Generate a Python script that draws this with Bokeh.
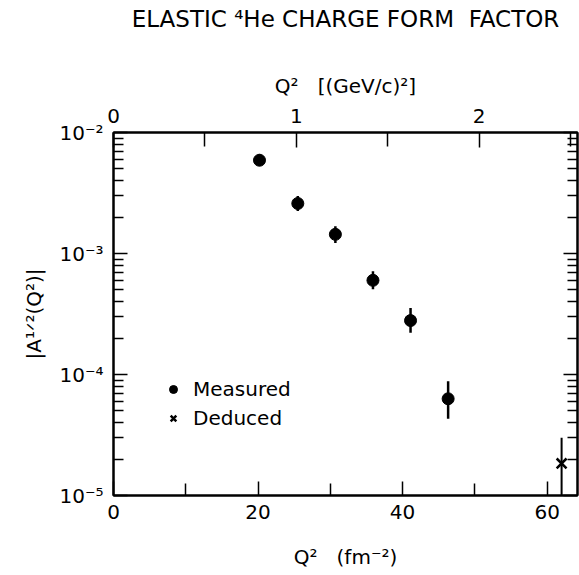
from bokeh.plotting import figure
from bokeh.models import (Range1d, LogAxis, LinearAxis, FixedTicker, Title,
                          Legend, LegendItem, ColumnDataSource)
from bokeh.embed import file_html
from bokeh.resources import INLINE

# ---------------- data ----------------
NB = "\u00a0"
title_text = "ELASTIC ⁴He CHARGE FORM" + NB + NB + "FACTOR"
x_label = "Q²" + NB * 3 + "(fm⁻²)"
top_label = "Q²" + NB * 3 + "[(GeV/c)²]"
y_label = "|A¹ᐟ²(Q²)|"

q2_measured = [20.2, 25.5, 30.7, 35.9, 41.1, 46.3]
a_measured = [5.9e-3, 2.59e-3, 1.44e-3, 6.0e-4, 2.79e-4, 6.3e-5]
a_measured_hi = [6.6e-3, 2.98e-3, 1.68e-3, 7.15e-4, 3.55e-4, 8.8e-5]
a_measured_lo = [5.3e-3, 2.24e-3, 1.22e-3, 5.07e-4, 2.21e-4, 4.3e-5]

q2_deduced = [62.0]
a_deduced = [1.84e-5]
a_deduced_hi = [3.0e-5]
a_deduced_lo = [5.0e-6]

x_ticks = [0, 20, 40, 60]
x_minor_ticks = [10, 30, 50]
top_ticks = [0, 1, 2]
top_minor_ticks = [0.5, 1.5, 2.5]
y_ticks = [1e-5, 1e-4, 1e-3, 1e-2]
y_tick_labels = ["10⁻⁵", "10⁻⁴", "10⁻³", "10⁻²"]
y_minor_ticks = [m * 10.0 ** e for e in (-5, -4, -3) for m in range(2, 10)]

X_MAX = 64.2
FM2_PER_GEV2 = 25.3
FONT = "DejaVu Sans"

# ---------------- figure ----------------
p = figure(width=579, height=575, output_backend="svg", toolbar_location=None,
           x_range=Range1d(0, X_MAX), y_range=Range1d(1e-5, 1e-2),
           y_axis_type="log",
           min_border_left=113, min_border_right=2,
           min_border_top=132, min_border_bottom=80)
p.extra_x_ranges = {"gev": Range1d(0, X_MAX / FM2_PER_GEV2)}
p.grid.visible = False
p.outline_line_color = "black"
p.outline_line_width = 2
p.background_fill_color = "white"
p.border_fill_color = "white"


def style(ax, major=14, minor=11):
    ax.axis_line_width = 2
    ax.axis_line_color = "black"
    ax.major_tick_in = major
    ax.major_tick_out = 0
    ax.minor_tick_in = minor
    ax.minor_tick_out = 0
    ax.major_tick_line_width = 1.5
    ax.minor_tick_line_width = 1.5
    ax.major_label_text_font = FONT
    ax.major_label_text_font_size = "20px"
    ax.major_label_text_color = "black"
    ax.axis_label_text_font = FONT
    ax.axis_label_text_font_size = "20px"
    ax.axis_label_text_font_style = "normal"
    ax.axis_label_text_color = "black"


# bottom axis
xa = p.xaxis[0]
xa.ticker = FixedTicker(ticks=x_ticks, minor_ticks=x_minor_ticks)
xa.axis_label = x_label
style(xa, 14, 12)
xa.major_label_standoff = 9
xa.axis_label_standoff = 23

# left axis
ya = p.yaxis[0]
ya.ticker = FixedTicker(ticks=y_ticks, minor_ticks=y_minor_ticks)
ya.major_label_overrides = {t: s for t, s in zip(y_ticks, y_tick_labels)}
ya.axis_label = y_label
style(ya, 14, 10)
ya.major_label_standoff = 10
ya.axis_label_standoff = 10

# top axis
ta = LinearAxis(x_range_name="gev",
                ticker=FixedTicker(ticks=top_ticks, minor_ticks=top_minor_ticks),
                axis_label=top_label)
style(ta, 15, 14)
ta.major_label_standoff = 10
ta.axis_label_standoff = 8
p.add_layout(ta, "above")

# spacer between top axis and title
spacer = Title(text=NB, text_font_size="30px", standoff=2)
p.add_layout(spacer, "above")

# right axis (ticks only)
ra = LogAxis(ticker=FixedTicker(ticks=y_ticks, minor_ticks=y_minor_ticks))
style(ra, 14, 10)
ra.major_label_overrides = {t: "" for t in y_ticks}
ra.major_label_standoff = 0
p.add_layout(ra, "right")

# title
p.title.text = title_text
p.title.align = "center"
p.title.text_font = FONT
p.title.text_font_size = "23px"
p.title.text_font_style = "normal"
p.title.text_color = "black"
p.title.standoff = 4

# ---------------- glyphs ----------------
meas = ColumnDataSource(dict(x=q2_measured, y=a_measured,
                             lo=a_measured_lo, hi=a_measured_hi))
ded = ColumnDataSource(dict(x=q2_deduced, y=a_deduced,
                            lo=a_deduced_lo, hi=a_deduced_hi))

p.segment(x0="x", y0="lo", x1="x", y1="hi", source=meas,
          line_color="black", line_width=2.5)
r_meas = p.scatter("x", "y", source=meas, marker="circle", size=12,
                   fill_color="black", line_color="black")
p.segment(x0="x", y0="lo", x1="x", y1="hi", source=ded,
          line_color="black", line_width=2)
r_ded = p.scatter("x", "y", source=ded, marker="x", size=14,
                  line_color="black", line_width=2.5)

legend = Legend(items=[LegendItem(label="Measured", renderers=[r_meas]),
                       LegendItem(label="Deduced", renderers=[r_ded])],
                location=(50, 65), border_line_color=None,
                background_fill_alpha=0, label_text_font=FONT,
                label_text_font_size="20px", label_text_color="black",
                glyph_width=20, glyph_height=20,
                label_height=20, label_standoff=10, spacing=5,
                padding=0, margin=0)
p.add_layout(legend)

open("out.html", "w").write(file_html(p, INLINE))
